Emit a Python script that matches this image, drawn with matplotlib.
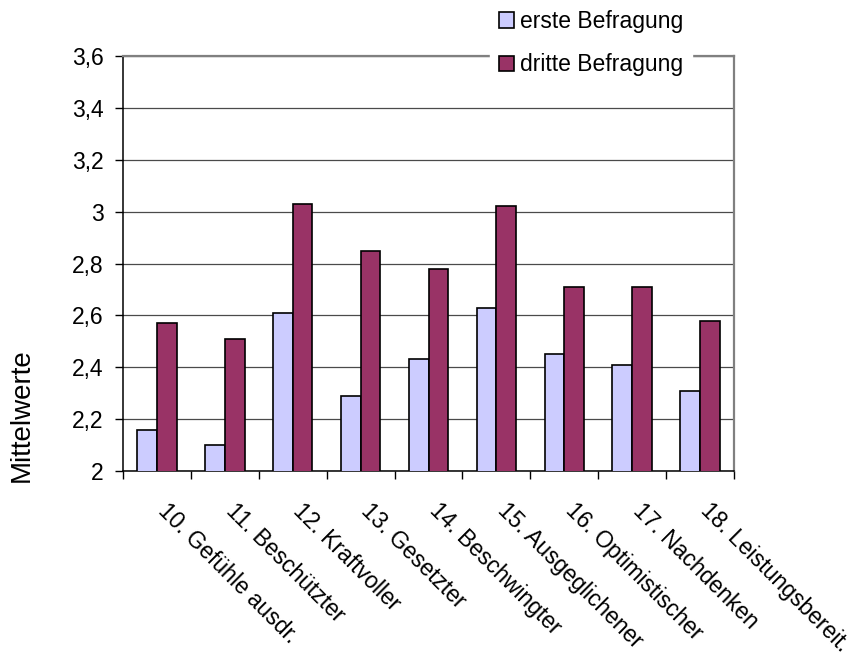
import matplotlib
matplotlib.use("Agg")
import matplotlib.pyplot as plt
import matplotlib.transforms as mtransforms
from matplotlib.ticker import FixedLocator, FuncFormatter
import numpy as np

plt.rcParams['font.family'] = ['Liberation Sans', 'DejaVu Sans']

categories = ["10. Gefühle ausdr.", "11. Beschützter", "12. Kraftvoller",
              "13. Gesetzter", "14. Beschwingter", "15. Ausgeglichener",
              "16. Optimistischer", "17. Nachdenken", "18. Leistungsbereit."]
erste = [2.16, 2.10, 2.61, 2.29, 2.43, 2.63, 2.45, 2.41, 2.31]
dritte = [2.57, 2.51, 3.03, 2.85, 2.78, 3.02, 2.71, 2.71, 2.58]
series_names = ["erste Befragung", "dritte Befragung"]
y_ticks = [2.0, 2.2, 2.4, 2.6, 2.8, 3.0, 3.2, 3.4, 3.6]

W, H = 861, 656
FS = 16.5
fig = plt.figure(figsize=(W / 100, H / 100), dpi=100)
ax = fig.add_axes([123 / W, 1 - 471 / H, (734 - 123) / W, (471 - 56) / H])

x = np.arange(len(categories))
bw = 0.29
ax.bar(x - bw / 2, erste, bw, color="#CCCCFF", edgecolor="black",
       linewidth=1.2, label=series_names[0], zorder=3)
ax.bar(x + bw / 2, dritte, bw, color="#993366", edgecolor="black",
       linewidth=1.2, label=series_names[1], zorder=3)

ax.set_xlim(-0.5, len(categories) - 0.5)
ax.set_ylim(2.0, 3.6)

# horizontal gridlines
ax.set_yticks(y_ticks)
ax.yaxis.set_major_formatter(FuncFormatter(
    lambda v, p: (f"{v:.1f}".rstrip("0").rstrip(".")).replace(".", ",")))
ax.grid(axis="y", color="#4a4a4a", linewidth=0.9, zorder=0)
ax.tick_params(axis="y", direction="out", length=6, width=1, pad=8,
               labelsize=FS, color="black")

# category boundary ticks on the x axis
ax.xaxis.set_minor_locator(FixedLocator(np.arange(-0.5, len(categories), 1.0)))
ax.tick_params(axis="x", which="minor", direction="out", length=6, width=1,
               color="black")
ax.set_xticks(x)
ax.set_xticklabels(categories, rotation=-45, ha="left", va="top",
                   rotation_mode="anchor", fontsize=FS)
ax.tick_params(axis="x", which="major", length=0, pad=0)
offset = mtransforms.ScaledTranslation(9 / 72, -20 / 72, fig.dpi_scale_trans)
for lbl in ax.get_xticklabels():
    lbl.set_transform(lbl.get_transform() + offset)

for side in ["left", "bottom"]:
    ax.spines[side].set_color("black")
    ax.spines[side].set_linewidth(1.1)
for side in ["top", "right"]:
    ax.spines[side].set_color("#808080")
    ax.spines[side].set_linewidth(1.6)

fig.text(22 / W, 1 - 415 / H, "Mittelwerte", rotation=90,
         ha="center", va="center", fontsize=20)

leg = ax.legend(loc="upper left", bbox_to_anchor=(490 / W, 1 - 1 / H),
                bbox_transform=fig.transFigure, frameon=True, fancybox=False,
                framealpha=1, facecolor="white", edgecolor="white",
                fontsize=FS, handlelength=0.65, handleheight=0.65,
                handletextpad=0.25, labelspacing=0.88, borderpad=0.4,
                borderaxespad=0)
leg.set_zorder(10)

fig.savefig("out.png", dpi=100)
